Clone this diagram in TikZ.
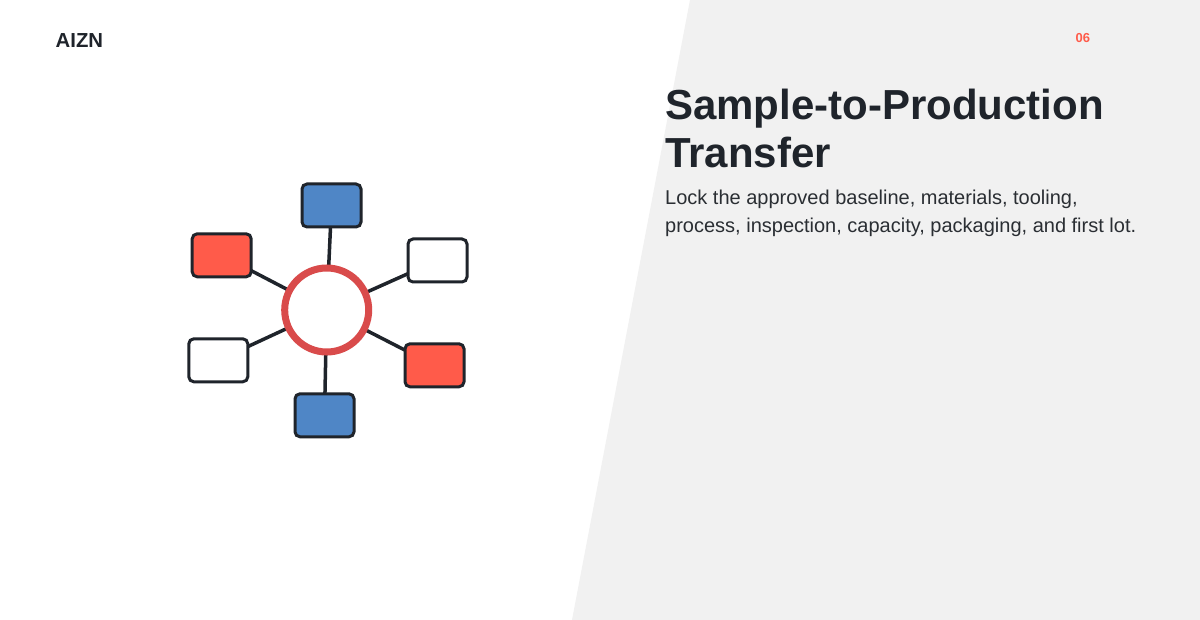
\documentclass[tikz,border=0pt]{standalone}
\usepackage{fontspec}
\setmainfont{Liberation Sans}
\usetikzlibrary{backgrounds}
\definecolor{ink}{HTML}{1F242B}
\definecolor{txt}{HTML}{2A2E33}
\definecolor{bluebox}{HTML}{4F86C6}
\definecolor{redbox}{HTML}{FF5B4A}
\definecolor{ring}{HTML}{D94B4B}
\definecolor{panel}{HTML}{F1F1F1}
\definecolor{accent}{HTML}{FF5B4A}
\tikzset{
  card/.style={draw=ink, line width=3pt, rounded corners=5pt, minimum width=59pt, minimum height=43pt, inner sep=0pt},
  bluecard/.style={card, fill=bluebox},
  redcard/.style={card, fill=redbox},
  whitecard/.style={card, fill=white},
  hub/.style={circle, draw=ring, line width=7pt, fill=white, minimum size=84pt, inner sep=0pt},
  spoke/.style={draw=ink, line width=3.5pt},
  label/.style={anchor=base west, inner sep=0pt}
}
\begin{document}
\begin{tikzpicture}[x=1pt,y=-1pt]
\useasboundingbox (0,0) rectangle (1200,620);
\begin{pgfonlayer}{background}
\fill[white] (0,0) rectangle (1200,620);
\fill[panel] (690,0) -- (1200,0) -- (1200,620) -- (572,620) -- cycle;
\end{pgfonlayer}

\node[label, font=\bfseries\fontsize{20.3}{24}\selectfont, text=ink] (logo) at (55.5,47.5) {AIZN};
\node[label, font=\bfseries\fontsize{13}{16}\selectfont, text=accent] (num) at (1075.5,43) {06};

\node[label, font=\bfseries\fontsize{42}{48}\selectfont, text=ink] (t1) at (665,120) {Sample-to-Production};
\node[label, font=\bfseries\fontsize{42}{48}\selectfont, text=ink] (t2) at (665,168) {Transfer};
\node[label, font=\fontsize{20}{28}\selectfont, text=txt] (b1) at (665,205) {Lock the approved baseline, materials, tooling,};
\node[label, font=\fontsize{20}{28}\selectfont, text=txt] (b2) at (665,233) {process, inspection, capacity, packaging, and first lot.};

\node[hub] (c) at (326.7,310) {};
\node[bluecard] (n1) at (331.5,205.5) {};
\node[whitecard] (n2) at (437.5,260.5) {};
\node[redcard] (n3) at (434.5,365.3) {};
\node[bluecard] (n4) at (324.5,415.3) {};
\node[whitecard] (n5) at (218.3,360.3) {};
\node[redcard] (n6) at (221.7,255.3) {};

\begin{pgfonlayer}{background}
\foreach \n in {n1,n2,n3,n4,n5,n6} {
  \draw[spoke] (c.center) -- (\n.center);
}
\end{pgfonlayer}
\end{tikzpicture}
\end{document}
